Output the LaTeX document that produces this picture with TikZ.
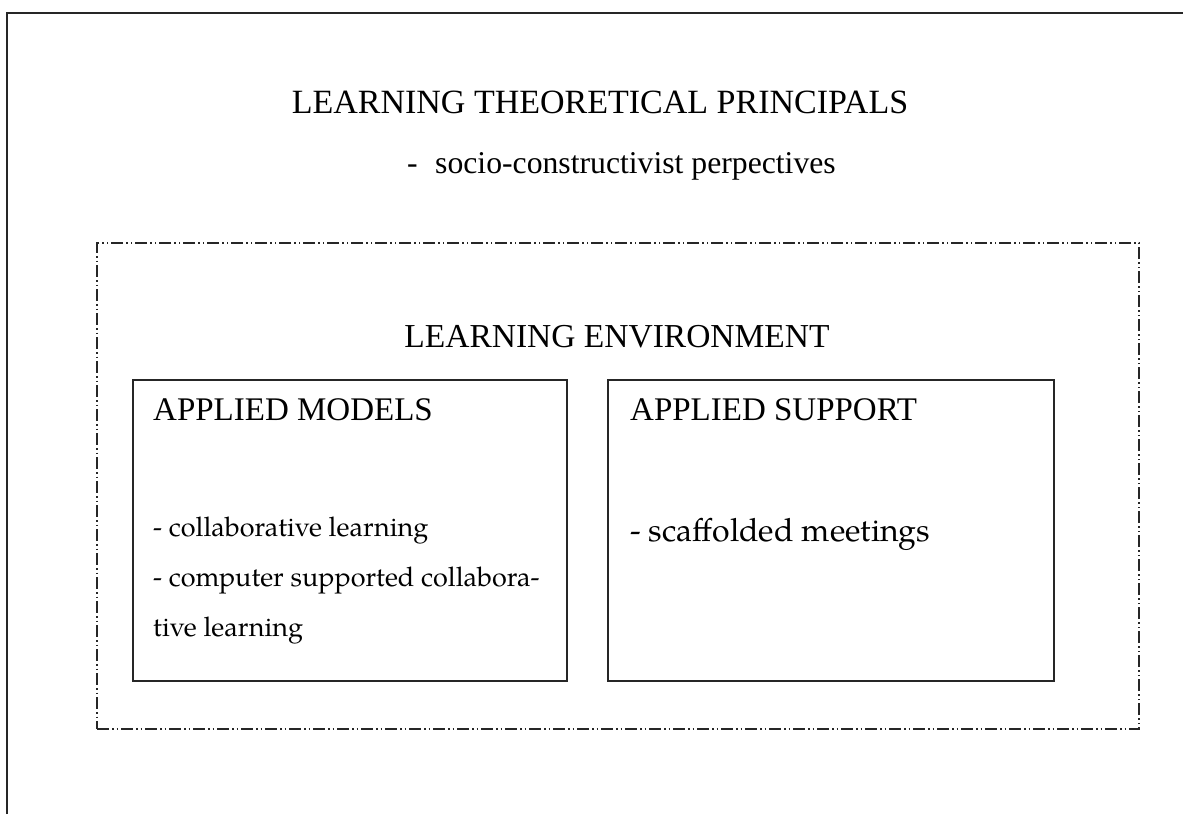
\documentclass[tikz,border=0pt]{standalone}
\usepackage{fontspec}
\setmainfont{Liberation Serif}
\newfontfamily\bodyfont{TeX Gyre Pagella}
\begin{document}
\begin{tikzpicture}[x=1pt,y=-1pt,
  frame/.style={line width=1.3pt,draw=black!85},
  envbox/.style={draw=black!85,line width=1.2pt,
    dash pattern=on 12pt off 3pt on 1.5pt off 3pt on 1.5pt off 3pt,
    inner sep=0pt,outer sep=0pt},
  subbox/.style={draw=black!85,line width=1.3pt,inner sep=0pt,outer sep=0pt},
  heading/.style={inner sep=0pt,anchor=base west,font=\fontsize{33}{40}\selectfont},
  bodytext/.style={inner sep=0pt,anchor=base west,font=\bodyfont\fontsize{27}{32}\selectfont},
  bigbody/.style={inner sep=0pt,anchor=base west,font=\bodyfont\fontsize{32}{38}\selectfont}
]
\useasboundingbox (0,0) rectangle (1183,814);

% page frame, open to the right and bottom
\draw[frame] (7,814) -- (7,13) -- (1183,13);

% headings above the environment
\node[heading,anchor=base,font=\fontsize{34}{40}\selectfont] (title) at (600,113) {LEARNING THEORETICAL PRINCIPALS};
\node[heading,font=\fontsize{31.7}{38}\selectfont] (dash) at (407,173) {-};
\node[heading,font=\fontsize{31.7}{38}\selectfont] (persp) at (435,173) {socio-constructivist perpectives};

% learning environment
\node[envbox,minimum width=1042pt,minimum height=486pt] (env) at (618,486) {};
\node[heading,anchor=base,font=\fontsize{33.5}{40}\selectfont] (envtitle) at (617,347) {LEARNING ENVIRONMENT};

% applied models
\node[subbox,minimum width=434pt,minimum height=301pt] (models) at (350,530.5) {};
\node[heading] (modelstitle) at (153,420) {APPLIED MODELS};
\node[bodytext] (m1) at (153,536) {- collaborative learning};
\node[bodytext] (m2) at (153,586) {- computer supported collabora-};
\node[bodytext] (m3) at (153,636) {tive learning};

% applied support
\node[subbox,minimum width=446pt,minimum height=301pt] (support) at (831,530.5) {};
\node[heading] (supporttitle) at (630,420) {APPLIED SUPPORT};
\node[bigbody] (s1) at (630,541) {- scaffolded meetings};
\end{tikzpicture}
\end{document}
